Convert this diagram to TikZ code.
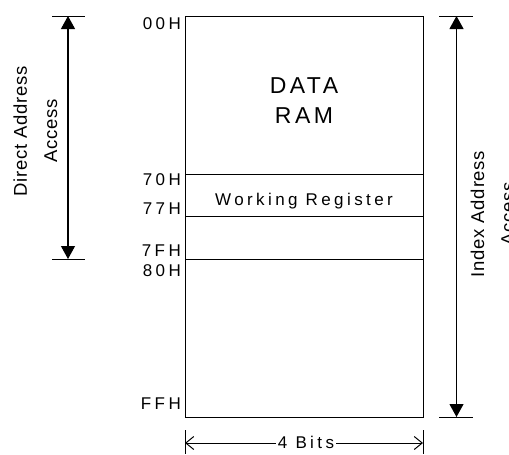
\documentclass[tikz,border=0pt]{standalone}
\usepackage{fontspec}
\setmainfont{Liberation Sans}
\newfontfamily\addrfont[LetterSpace=20]{Liberation Sans}
\newfontfamily\sidefont[LetterSpace=4]{Liberation Sans}
\newfontfamily\titlefont[LetterSpace=15]{Liberation Sans}
\usetikzlibrary{arrows.meta}

\tikzset{
  addr/.style={anchor=base east, inner sep=0pt,
    font={\addrfont\fontsize{17}{20}\selectfont}},
  sidelabel/.style={anchor=base, inner sep=0pt, rotate=90,
    font={\sidefont\fontsize{18.5}{22}\selectfont}},
  memblock/.style={draw, line width=1.2pt, inner sep=0pt, anchor=north west},
  divider/.style={line width=0.9pt},
  tick/.style={line width=1pt},
  span/.style={line width=1.1pt, {Triangle[length=13pt,width=14pt]}-{Triangle[length=13pt,width=14pt]}},
  widthline/.style={line width=1pt},
  barb/.style={-{Straight Barb[length=8pt,width=13pt,line width=1pt]}}
}

\begin{document}
\begin{tikzpicture}[x=1pt,y=-1pt]
\useasboundingbox (0,0) rectangle (509,455);

% memory block
\node[memblock, minimum width=238pt, minimum height=401pt] (ram) at (185,16) {};

% row boundaries
\coordinate (r70) at (0,174);
\coordinate (r77) at (0,216.5);
\coordinate (r80) at (0,259);
\draw[divider] (ram.west |- r70) -- (ram.east |- r70);
\draw[divider] (ram.west |- r77) -- (ram.east |- r77);
\draw[divider] (ram.west |- r80) -- (ram.east |- r80);

% block contents
\node[inner sep=0pt, align=center, font={\titlefont\fontsize{23}{30}\selectfont}]
  (title) at (304,100.8) {DATA\\RAM};
\node[anchor=base, inner sep=0pt, font={\addrfont\fontsize{17}{20}\selectfont}]
  (wreg) at (304,205) {Working Register};

% addresses
\node[addr] (a00) at (181,30) {00H};
\node[addr] (a70) at (181,185.7) {70H};
\node[addr] (a77) at (181,214.3) {77H};
\node[addr] (a7F) at (181,256.7) {7FH};
\node[addr] (a80) at (181,276.7) {80H};
\node[addr] (aFF) at (181,409) {FFH};

% direct address range
\coordinate (dT) at (68,16);
\coordinate (dB) at (68,259);
\coordinate (dTl) at (52,16);  \coordinate (dTr) at (85,16);
\coordinate (dBl) at (52,259); \coordinate (dBr) at (85,259);
\draw[tick] (dTl) -- (dTr);
\draw[tick] (dBl) -- (dBr);
\draw[span] (dT) -- (dB);
\node[sidelabel] (dlab1) at (27,131) {Direct Address};
\node[sidelabel] (dlab2) at (57,131) {Access};

% index address range
\coordinate (iT) at (456.5,16);
\coordinate (iB) at (456.5,417);
\coordinate (iTl) at (439,16);  \coordinate (iTr) at (473,16);
\coordinate (iBl) at (439,417); \coordinate (iBr) at (473,417);
\draw[tick] (iTl) -- (iTr);
\draw[tick] (iBl) -- (iBr);
\draw[span] (iT) -- (iB);
\node[sidelabel] (ilab1) at (484,214) {Index Address};
\node[sidelabel] (ilab2) at (514,214) {Access};

% word width
\coordinate (wL) at (185,443);
\coordinate (wR) at (423,443);
\draw[tick] (185,430) -- (185,454);
\draw[tick] (423,430) -- (423,454);
\node[anchor=base, inner xsep=2pt, inner ysep=0pt,
  font={\addrfont\fontsize{17}{20}\selectfont}] (bits) at (306,448.3) {4 Bits};
\draw[widthline, barb] (wL -| bits.west) -- (wL);
\draw[widthline, barb] (wR -| bits.east) -- (wR);
\end{tikzpicture}
\end{document}
